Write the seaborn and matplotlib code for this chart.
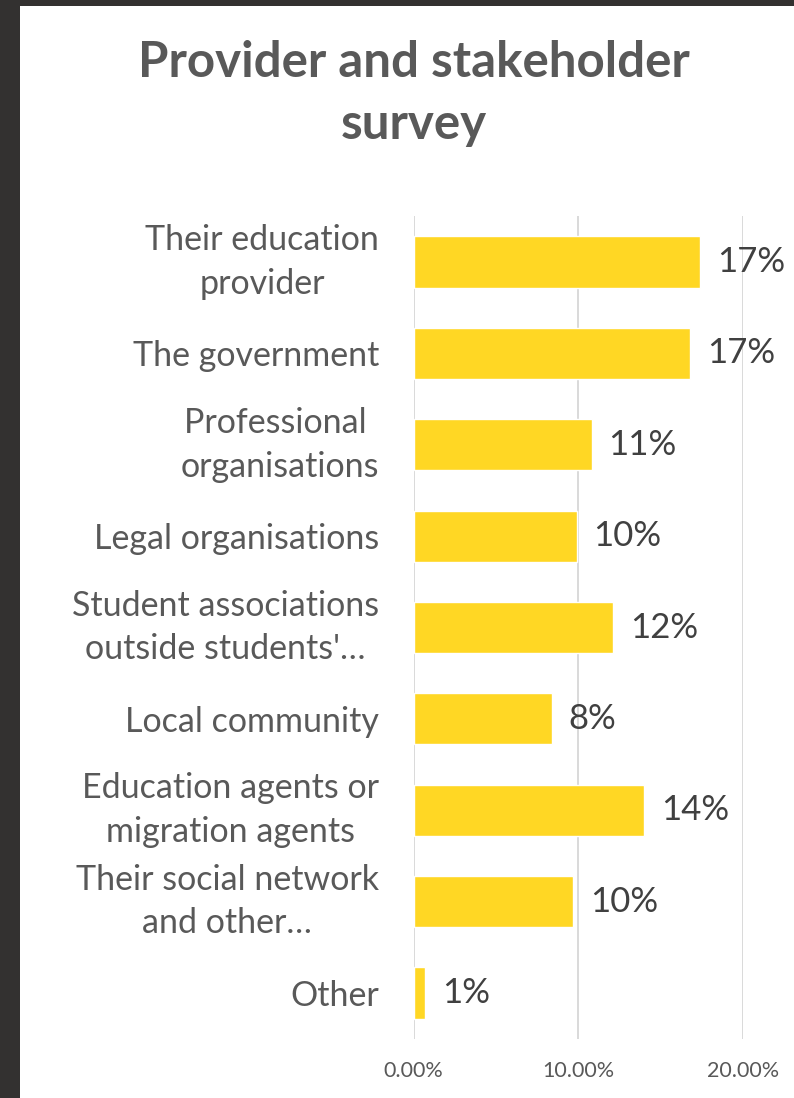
import matplotlib
matplotlib.use("Agg")
import matplotlib.pyplot as plt
from matplotlib.patches import Rectangle
from matplotlib.ticker import FuncFormatter
import seaborn as sns
import pandas as pd

# Survey responses: share of respondents naming each source
categories = [
    "Their education\nprovider",
    "The government",
    "Professional \norganisations",
    "Legal organisations",
    "Student associations\noutside students'…",
    "Local community",
    "Education agents or\nmigration agents",
    "Their social network\nand other…",
    "Other",
]
shares = [17.4, 16.8, 10.8, 9.9, 12.1, 8.4, 14.0, 9.7, 0.7]
value_labels = ["17%", "17%", "11%", "10%", "12%", "8%", "14%", "10%", "1%"]
x_ticks = [0, 10, 20]
title = "Provider and stakeholder\nsurvey"

df = pd.DataFrame({"category": categories, "share": shares})

sns.set_theme(style="white")
plt.rcParams["font.family"] = ["Lato", "DejaVu Sans"]

W, H = 794, 1098
fig = plt.figure(figsize=(W / 100, H / 100), dpi=100, facecolor="#333130")
# white card with the dark frame along the left and top
fig.patches.append(Rectangle((20 / W, 0), 1 - 20 / W, 1 - 6 / H,
                             transform=fig.transFigure, facecolor="white",
                             edgecolor="none", zorder=-10))

ax_left, ax_right = 413.7, 743.1
ax_top, ax_bottom = 216.3, 1038.7
ax = fig.add_axes([ax_left / W, 1 - ax_bottom / H,
                   (ax_right - ax_left) / W, (ax_bottom - ax_top) / H])
ax.set_facecolor("none")

sns.barplot(data=df, x="share", y="category", orient="h", color="#FFD724",
            width=0.56, saturation=1, ax=ax, zorder=3)

ax.set_xlim(0, 20)
ax.set_ylim(len(categories) - 0.5, -0.5)
ax.set_xticks(x_ticks)
ax.xaxis.set_major_formatter(FuncFormatter(lambda v, _: f"{v:.2f}%"))
ax.grid(axis="x", color="#D9D9D9", linewidth=1.4, zorder=0)
ax.grid(axis="y", visible=False)
for s in ax.spines.values():
    s.set_visible(False)

ax.set_xlabel("")
ax.set_ylabel("")
ax.tick_params(axis="x", length=0, pad=16, labelsize=15.5, labelcolor="#595959")
ax.tick_params(axis="y", length=0, pad=25, labelsize=24.5, labelcolor="#595959")
for t in ax.get_yticklabels():
    t.set_multialignment("center")
    t.set_linespacing(1.45)
    if "\n" in t.get_text():
        t.set_verticalalignment("center")

ax.bar_label(ax.containers[0], labels=value_labels, padding=12,
             fontsize=25, color="#404040", clip_on=False)

fig.text(414 / W, 1 - 40 / H, title, ha="center", va="top", fontsize=35.5,
         fontweight="bold", color="#595959", linespacing=1.45)

fig.savefig("out.png", dpi=100, facecolor=fig.get_facecolor())
